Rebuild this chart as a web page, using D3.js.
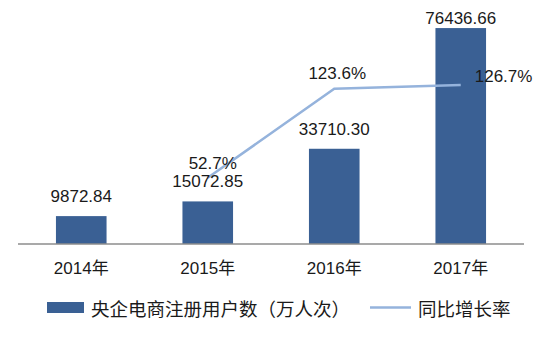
<!DOCTYPE html>
<html><head><meta charset="utf-8">
<script src="https://cdn.jsdelivr.net/npm/d3@7"></script>
<style>body{margin:0;background:#fff}text{font-family:"Liberation Sans","Noto Sans CJK SC",sans-serif;fill:#1a1a1a}</style>
</head><body><svg id="c" width="552" height="347"></svg>
<script>
const categories = ["2014年","2015年","2016年","2017年"];
const users = [9872.84, 15072.85, 33710.30, 76436.66];
const userLabels = ["9872.84","15072.85","33710.30","76436.66"];
const growth = [null, 52.7, 123.6, 126.7];
const growthLabels = ["", "52.7%", "123.6%", "126.7%"];
const legendNames = ["央企电商注册用户数（万人次）","同比增长率"];

const svg = d3.select("#c");
const x = d3.scaleBand().domain(categories).range([18, 524]).paddingInner(0.6).paddingOuter(0.3);
const y = d3.scaleLinear().domain([0, 80000]).range([244, 18]);
const y2 = d3.scaleLinear().domain([0, 180]).range([244, 18]);
const barColor = "#3a6094", lineColor = "#95b3dc";

svg.append("g").selectAll("rect").data(users).join("rect")
  .attr("x", (d,i)=>x(categories[i])).attr("width", x.bandwidth())
  .attr("y", d=>y(d)).attr("height", d=>y(0)-y(d)).attr("fill", barColor);

const ax = svg.append("g").attr("transform","translate(0,244)")
  .call(d3.axisBottom(x).tickSize(0).tickPadding(18));
ax.select(".domain").attr("stroke","#8c8c8c").attr("stroke-width",1.5).attr("d","M18,0H524");
ax.selectAll("text").attr("font-size",17).style("font-family","'Liberation Sans','Noto Sans CJK SC',sans-serif").attr("fill","#1a1a1a");

const pts = growth.map((g,i)=>({g, c:categories[i]})).filter(p=>p.g!==null);
const cx = c => x(c)+x.bandwidth()/2;
svg.append("path").datum(pts)
  .attr("d", d3.line().x(p=>cx(p.c)).y(p=>y2(p.g)))
  .attr("fill","none").attr("stroke",lineColor).attr("stroke-width",2.5);

svg.append("g").selectAll("text").data(users).join("text")
  .attr("x",(d,i)=>cx(categories[i])).attr("y", d=>Math.max(y(d)-14, 24))
  .attr("text-anchor","middle").attr("font-size",17).text((d,i)=>userLabels[i]);

// growth labels
const gl = svg.append("g");
const offs = [[5,-9],[3,-10],[14,-3]];
pts.forEach((p,k)=>{
  const i = categories.indexOf(p.c);
  const last = k===pts.length-1;
  gl.append("text")
    .attr("x", cx(p.c)+offs[k][0])
    .attr("y", y2(p.g)+offs[k][1])
    .attr("text-anchor", last ? "start" : "middle")
    .attr("font-size",17).text(growthLabels[i]);
});

// legend
svg.append("rect").attr("x",47).attr("y",302).attr("width",37).attr("height",11).attr("fill",barColor);
svg.append("text").attr("x",91).attr("y",316).attr("font-size",18.5).text(legendNames[0]);
svg.append("line").attr("x1",370).attr("x2",411).attr("y1",307.5).attr("y2",307.5).attr("stroke",lineColor).attr("stroke-width",2.5);
svg.append("text").attr("x",418).attr("y",316).attr("font-size",18.5).text(legendNames[1]);
</script></body></html>
